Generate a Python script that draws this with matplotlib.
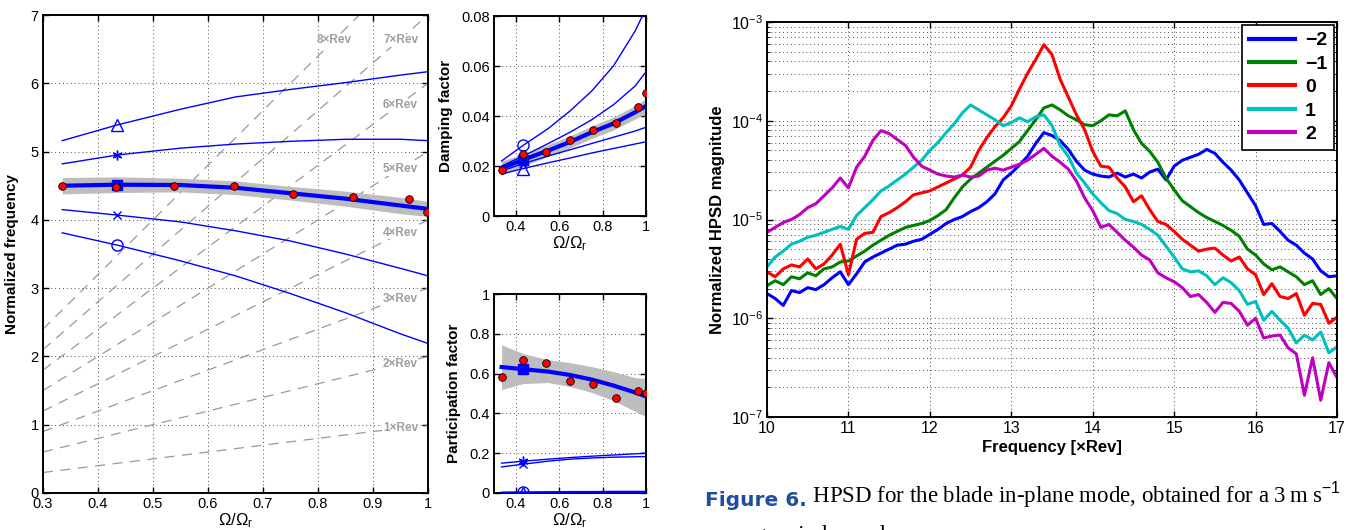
import matplotlib
matplotlib.use('agg')
import matplotlib.pyplot as plt
import numpy as np
from matplotlib.ticker import LogLocator, NullFormatter

W, H = 1355, 530

plt.rcParams['font.family'] = ['Liberation Sans', 'DejaVu Sans']
plt.rcParams['mathtext.fontset'] = 'custom'
plt.rcParams['mathtext.rm'] = 'Liberation Sans'
plt.rcParams['mathtext.it'] = 'Liberation Sans:italic'

# ---- identified modes vs rotor speed (left panels) ----
omega = [0.335, 0.435, 0.55, 0.65, 0.75, 0.85, 0.95, 1.0]

freq_tri = [5.16, 5.39, 5.62, 5.80, 5.91, 6.01, 6.12, 6.17]
freq_star = [4.82, 4.95, 5.05, 5.11, 5.15, 5.18, 5.18, 5.16]
freq_main = [4.50, 4.515, 4.51, 4.47, 4.39, 4.31, 4.21, 4.16]
freq_lo = [4.38, 4.40, 4.41, 4.37, 4.29, 4.20, 4.09, 4.05]
freq_hi = [4.62, 4.63, 4.61, 4.57, 4.49, 4.42, 4.33, 4.27]
freq_x = [4.15, 4.07, 3.97, 3.84, 3.69, 3.50, 3.29, 3.18]
freq_circ = [3.81, 3.63, 3.40, 3.18, 2.92, 2.64, 2.33, 2.19]

damp_circ = [0.0220, 0.0283, 0.0350, 0.0420, 0.0500, 0.0600, 0.0740, 0.0830]
damp_star = [0.0200, 0.0240, 0.0290, 0.0335, 0.0385, 0.0445, 0.0520, 0.0577]
damp_main = [0.0191, 0.0225, 0.0262, 0.0296, 0.0335, 0.0370, 0.0415, 0.0440]
damp_lo = [0.0163, 0.0200, 0.0238, 0.0272, 0.0310, 0.0344, 0.0388, 0.0410]
damp_hi = [0.0219, 0.0250, 0.0286, 0.0320, 0.0360, 0.0396, 0.0442, 0.0470]
damp_x = [0.0180, 0.0210, 0.0240, 0.0265, 0.0290, 0.0315, 0.0340, 0.0355]
damp_tri = [0.0168, 0.0190, 0.0213, 0.0232, 0.0252, 0.0270, 0.0288, 0.0297]

part_main = [0.633, 0.622, 0.610, 0.593, 0.570, 0.540, 0.505, 0.485]
part_lo = [0.520, 0.550, 0.555, 0.535, 0.505, 0.465, 0.410, 0.385]
part_hi = [0.745, 0.700, 0.670, 0.655, 0.635, 0.610, 0.580, 0.575]
part_star = [0.150, 0.160, 0.170, 0.178, 0.185, 0.191, 0.197, 0.200]
part_x = [0.131, 0.145, 0.160, 0.170, 0.176, 0.180, 0.182, 0.183]
part_circ = [0.004, 0.005, 0.006, 0.007, 0.007, 0.008, 0.008, 0.008]
part_tri = [0.002, 0.003, 0.003, 0.004, 0.004, 0.004, 0.004, 0.004]

meas_omega = [0.335, 0.432, 0.539, 0.648, 0.755, 0.864, 0.965, 0.998]
meas_freq = [4.50, 4.48, 4.50, 4.49, 4.38, 4.34, 4.31, 4.12]
meas_damp = [0.0184, 0.0249, 0.0257, 0.0305, 0.0345, 0.0372, 0.0436, 0.0491]
meas_part = [0.582, 0.669, 0.654, 0.565, 0.546, 0.476, 0.511, 0.504]

rev_orders = [1, 2, 3, 4, 5, 6, 7, 8]
rev_label_x = [0.95, 0.95, 0.95, 0.95, 0.95, 0.95, 0.95, 0.83]
rev_label_y = [0.95, 1.89, 2.84, 3.81, 4.74, 5.68, 6.63, 6.63]

# ---- HPSD (right panel), log10 of magnitude ----
hpsd_freq = np.linspace(10, 17, 71)
hpsd_labels = ['\u22122', '\u22121', '0', '1', '2']
hpsd_colors = ['#0000ff', '#008000', '#ff0000', '#00bfbf', '#bf00bf']
hpsd_m2 = [-5.75, -5.80, -5.87, -5.72, -5.74, -5.69, -5.71, -5.66, -5.59, -5.53,
           -5.66, -5.55, -5.43, -5.38, -5.34, -5.30, -5.26, -5.25, -5.22, -5.20,
           -5.15, -5.10, -5.04, -5.00, -4.97, -4.92, -4.88, -4.82, -4.74, -4.60,
           -4.53, -4.45, -4.36, -4.23, -4.12, -4.15, -4.20, -4.29, -4.41, -4.50,
           -4.54, -4.56, -4.57, -4.53, -4.57, -4.54, -4.58, -4.52, -4.49, -4.60,
           -4.46, -4.40, -4.37, -4.34, -4.29, -4.33, -4.42, -4.50, -4.60, -4.73,
           -4.86, -5.05, -5.04, -5.12, -5.21, -5.26, -5.34, -5.40, -5.52, -5.58, -5.57]
hpsd_m1 = [-5.67, -5.62, -5.66, -5.58, -5.60, -5.54, -5.57, -5.50, -5.48, -5.43,
           -5.42, -5.37, -5.32, -5.26, -5.21, -5.16, -5.12, -5.08, -5.06, -5.04,
           -5.01, -4.96, -4.90, -4.78, -4.67, -4.59, -4.53, -4.47, -4.41, -4.35,
           -4.28, -4.21, -4.10, -3.99, -3.87, -3.84, -3.89, -3.95, -3.99, -4.04,
           -4.05, -4.00, -3.94, -3.95, -3.90, -4.09, -4.23, -4.31, -4.42, -4.58,
           -4.70, -4.81, -4.87, -4.93, -4.98, -5.02, -5.06, -5.11, -5.17, -5.30,
           -5.36, -5.45, -5.51, -5.48, -5.53, -5.58, -5.66, -5.62, -5.76, -5.70, -5.80]
hpsd_0 = [-5.53, -5.58, -5.50, -5.46, -5.48, -5.40, -5.50, -5.45, -5.36, -5.25,
          -5.56, -5.20, -5.14, -5.13, -4.97, -4.93, -4.88, -4.82, -4.75, -4.73,
          -4.71, -4.67, -4.63, -4.59, -4.55, -4.47, -4.30, -4.17, -4.06, -3.97,
          -3.85, -3.68, -3.52, -3.38, -3.23, -3.33, -3.58, -3.76, -3.94, -4.09,
          -4.31, -4.46, -4.47, -4.58, -4.67, -4.82, -4.76, -4.90, -5.02, -5.05,
          -5.12, -5.20, -5.26, -5.32, -5.30, -5.29, -5.36, -5.42, -5.38, -5.50,
          -5.56, -5.76, -5.65, -5.78, -5.80, -5.75, -5.97, -5.85, -5.86, -6.05, -5.99]
hpsd_p1 = [-5.48, -5.38, -5.32, -5.25, -5.22, -5.18, -5.16, -5.13, -5.10, -5.07,
           -5.10, -4.96, -4.88, -4.80, -4.71, -4.66, -4.60, -4.54, -4.47, -4.40,
           -4.30, -4.22, -4.12, -4.03, -3.92, -3.84, -3.89, -3.94, -3.99, -4.05,
           -4.02, -3.97, -4.01, -3.96, -3.94, -4.05, -4.25, -4.36, -4.53, -4.63,
           -4.74, -4.83, -4.91, -4.94, -5.00, -5.02, -5.05, -5.10, -5.16, -5.27,
           -5.38, -5.50, -5.53, -5.52, -5.57, -5.66, -5.59, -5.64, -5.72, -5.86,
           -5.83, -6.02, -5.93, -6.02, -6.10, -6.25, -6.17, -6.22, -6.14, -6.35, -6.29]
hpsd_p2 = [-5.13, -5.08, -5.03, -5.00, -4.95, -4.88, -4.84, -4.76, -4.68, -4.58,
           -4.68, -4.47, -4.36, -4.20, -4.10, -4.13, -4.19, -4.25, -4.37, -4.46,
           -4.50, -4.54, -4.56, -4.57, -4.55, -4.57, -4.56, -4.50, -4.48, -4.50,
           -4.47, -4.44, -4.40, -4.34, -4.28, -4.36, -4.42, -4.49, -4.61, -4.78,
           -4.91, -5.08, -5.05, -5.13, -5.21, -5.28, -5.36, -5.41, -5.54, -5.59,
           -5.63, -5.69, -5.78, -5.76, -5.84, -5.94, -5.84, -5.85, -5.93, -6.07,
           -6.00, -6.20, -6.18, -6.17, -6.30, -6.36, -6.78, -6.40, -6.83, -6.45, -6.60]

BLUE = '#0000ff'
GRID = dict(linestyle=(0, (1, 3)), color='0.3', linewidth=0.7)


def px_axes(fig, left, top, right, bottom):
    return fig.add_axes([left / W, 1 - bottom / H, (right - left) / W, (bottom - top) / H])


def style(ax, size=10.5):
    ax.tick_params(direction='in', top=True, right=True, labelsize=size,
                   length=4, width=1, pad=3)
    for s in ax.spines.values():
        s.set_linewidth(1.4)
    ax.grid(True, **GRID)
    ax.set_axisbelow(True)


def mode_panel(ax, lo, hi, main, others, meas):
    ax.fill_between(omega, lo, hi, color='#bdbdbd', lw=0, zorder=2)
    for vals, mk, ms in others:
        ax.plot(omega, vals, color=BLUE, lw=1.0, zorder=3)
        ax.plot(omega[1], vals[1], marker=mk, ms=ms, color=BLUE,
                mfc='none', mew=1.0, zorder=4)
    ax.plot(omega, main, color=BLUE, lw=3, zorder=4)
    ax.plot(omega[1], main[1], marker='s', ms=7, color=BLUE, zorder=5)
    ax.plot(meas_omega, meas, 'o', ms=5.5, mfc='#ff0000', mec='black',
            mew=0.6, zorder=6)


ASTER = (6, 2, 0)
OMEGA_LABEL = r'$\Omega/\Omega_{\mathrm{r}}$'
fig = plt.figure(figsize=(W / 100, H / 100), dpi=100)

# --- normalized frequency ---
ax1 = px_axes(fig, 43, 15, 428, 493)
style(ax1)
for n in rev_orders:
    ax1.plot([0.3, 1.0], [0.3 * n, 1.0 * n], color='0.6', lw=0.9,
             dashes=(8, 6), zorder=1)
for n, tx, ty in zip(rev_orders, rev_label_x, rev_label_y):
    ax1.text(tx, ty, f'{n}\u00d7Rev', color='0.62', fontsize=8.5, fontweight='bold',
             ha='center', va='center', zorder=1.5,
             bbox=dict(facecolor='white', edgecolor='none', pad=0.3))
mode_panel(ax1, freq_lo, freq_hi, freq_main,
           [(freq_tri, '^', 8), (freq_star, ASTER, 7),
            (freq_x, 'x', 6), (freq_circ, 'o', 8)], meas_freq)
ax1.set_xlim(0.3, 1.0)
ax1.set_ylim(0, 7)
ax1.set_xticks([0.3, 0.4, 0.5, 0.6, 0.7, 0.8, 0.9, 1.0],
               ['0.3', '0.4', '0.5', '0.6', '0.7', '0.8', '0.9', '1'])
ax1.set_ylabel('Normalized frequency', fontsize=11, fontweight='bold', labelpad=8)
ax1.set_xlabel(OMEGA_LABEL, fontsize=12, labelpad=0)

# --- damping ---
ax2 = px_axes(fig, 494, 16, 646, 216)
style(ax2)
mode_panel(ax2, damp_lo, damp_hi, damp_main,
           [(damp_circ, 'o', 8), (damp_star, ASTER, 7),
            (damp_x, 'x', 6), (damp_tri, '^', 8)], meas_damp)
ax2.set_xlim(0.3, 1.0)
ax2.set_ylim(0, 0.08)
ax2.set_xticks([0.4, 0.6, 0.8, 1.0], ['0.4', '0.6', '0.8', '1'])
ax2.set_yticks([0, 0.02, 0.04, 0.06, 0.08], ['0', '0.02', '0.04', '0.06', '0.08'])
ax2.set_ylabel('Damping factor', fontsize=11, fontweight='bold', labelpad=6)
ax2.set_xlabel(OMEGA_LABEL, fontsize=12, labelpad=0)

# --- participation ---
ax3 = px_axes(fig, 494, 294, 646, 493)
style(ax3)
mode_panel(ax3, part_lo, part_hi, part_main,
           [(part_star, ASTER, 7), (part_x, 'x', 6),
            (part_circ, 'o', 8), (part_tri, '^', 7)], meas_part)
ax3.set_xlim(0.3, 1.0)
ax3.set_ylim(0, 1)
ax3.set_xticks([0.4, 0.6, 0.8, 1.0], ['0.4', '0.6', '0.8', '1'])
ax3.set_yticks([0, 0.2, 0.4, 0.6, 0.8, 1.0], ['0', '0.2', '0.4', '0.6', '0.8', '1'])
ax3.set_ylabel('Participation factor', fontsize=11, fontweight='bold', labelpad=6)
ax3.set_xlabel(OMEGA_LABEL, fontsize=12, labelpad=0)

# --- HPSD ---
ax4 = px_axes(fig, 767, 22, 1337, 417)
style(ax4, size=11.5)
ax4.grid(True, which='minor', axis='y', **GRID)
for vals, col, lab in zip([hpsd_m2, hpsd_m1, hpsd_0, hpsd_p1, hpsd_p2],
                          hpsd_colors, hpsd_labels):
    ax4.plot(hpsd_freq, 10 ** np.array(vals), color=col, lw=2.2, label=lab)
ax4.set_yscale('log')
ax4.set_xlim(10, 17)
ax4.set_ylim(1e-7, 1e-3)
ax4.yaxis.set_major_locator(LogLocator(base=10, numticks=10))
ax4.yaxis.set_minor_locator(LogLocator(base=10, subs=np.arange(2, 10), numticks=10))
ax4.yaxis.set_minor_formatter(NullFormatter())
ax4.tick_params(which='minor', direction='in', right=True, length=2.5)
ax4.set_xlabel('Frequency [\u00d7Rev]', fontsize=12, fontweight='bold', labelpad=3)
ax4.set_ylabel('Normalized HPSD magnitude', fontsize=12, fontweight='bold', labelpad=4)
leg = ax4.legend(loc='upper right', prop={'weight': 'bold', 'size': 14},
                 handlelength=2.4, handletextpad=0.5, labelspacing=0.3,
                 borderaxespad=0.15, borderpad=0.35, fancybox=False,
                 framealpha=1, edgecolor='black')
leg.get_frame().set_linewidth(1.2)
for line in leg.get_lines():
    line.set_linewidth(3)

# --- caption ---
cap = fig.text(705 / W, 1 - 506 / H, 'Figure 6.', fontsize=14.5, fontweight='bold',
               color='#1f4f9c', family='Liberation Sans Narrow', va='baseline')
ax4.annotate(' HPSD for the blade in-plane mode, obtained for a 3\u2009m\u2009s$^{\u22121}$',
             xy=(1, 0), xycoords=cap, va='bottom', ha='left',
             fontsize=16.5, family='Liberation Serif', annotation_clip=False)
fig.text(705 / W, 1 - 541 / H, 'average wind speed.', fontsize=16.5,
         family='Liberation Serif', va='baseline')

fig.savefig('out.png', dpi=100)
